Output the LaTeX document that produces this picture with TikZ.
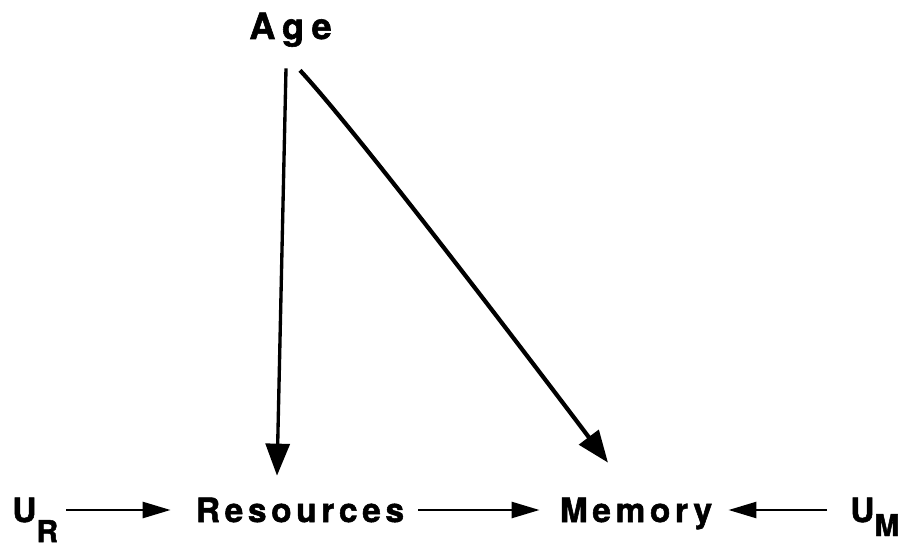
\documentclass[tikz,border=0pt]{standalone}
\usepackage{fontspec}
\usetikzlibrary{arrows.meta}
\newfontfamily\labfont[LetterSpace=14, BoldFeatures={FakeBold=1.6}]{TeX Gyre Heros}
\newfontfamily\agefont[LetterSpace=20, BoldFeatures={FakeBold=1.6}]{TeX Gyre Heros}
\newcommand{\lowsub}[2]{\raisebox{-#1}{\fontsize{17}{20}\selectfont #2}}

\begin{document}
\begin{tikzpicture}[
    lbl/.style={inner sep=0pt, text height=0.48cm, text depth=0pt,
      font=\labfont\bfseries\fontsize{19}{22}\selectfont},
    link/.style={-{Triangle[length=0.56cm,width=0.32cm]}, line width=1.5pt},
    agelink/.style={-{Triangle[length=0.64cm,width=0.48cm]}, line width=1.9pt}]
  \useasboundingbox (0,0) rectangle (18.34,10.96);

  \node[lbl, anchor=base] (age) at (5.81,10.18) {\agefont\bfseries\fontsize{20.5}{24}\selectfont Age};
  \node[lbl, anchor=base west] (ur) at (0.24,0.52) {U\lowsub{0.40cm}{R}};
  \node[lbl, anchor=base] (res) at (6.00,0.52) {Resources};
  \node[lbl, anchor=base] (mem) at (12.72,0.52) {Memory};
  \node[lbl, anchor=base west] (um) at (17.00,0.52) {U\lowsub{0.28cm}{M}};

  % age effects
  \draw[agelink] ([shift={(-0.09cm,-0.58cm)}]age.south) -- ([shift={(-0.46cm,0.44cm)}]res.north);
  \draw[agelink, line width=2.4pt] ([shift={(0.19cm,-0.62cm)}]age.south)
    to[out=-47,in=127,looseness=0.45] ([shift={(-0.56cm,0.70cm)}]mem.north);

  % bottom row
  \draw[link, shorten <=0.16cm, shorten >=0.5cm] (ur) -- (res);
  \draw[link, shorten <=0.28cm, shorten >=0.4cm] (res) -- (mem);
  \draw[link, shorten <=0.46cm, shorten >=0.32cm] (um) -- (mem);
\end{tikzpicture}
\end{document}
